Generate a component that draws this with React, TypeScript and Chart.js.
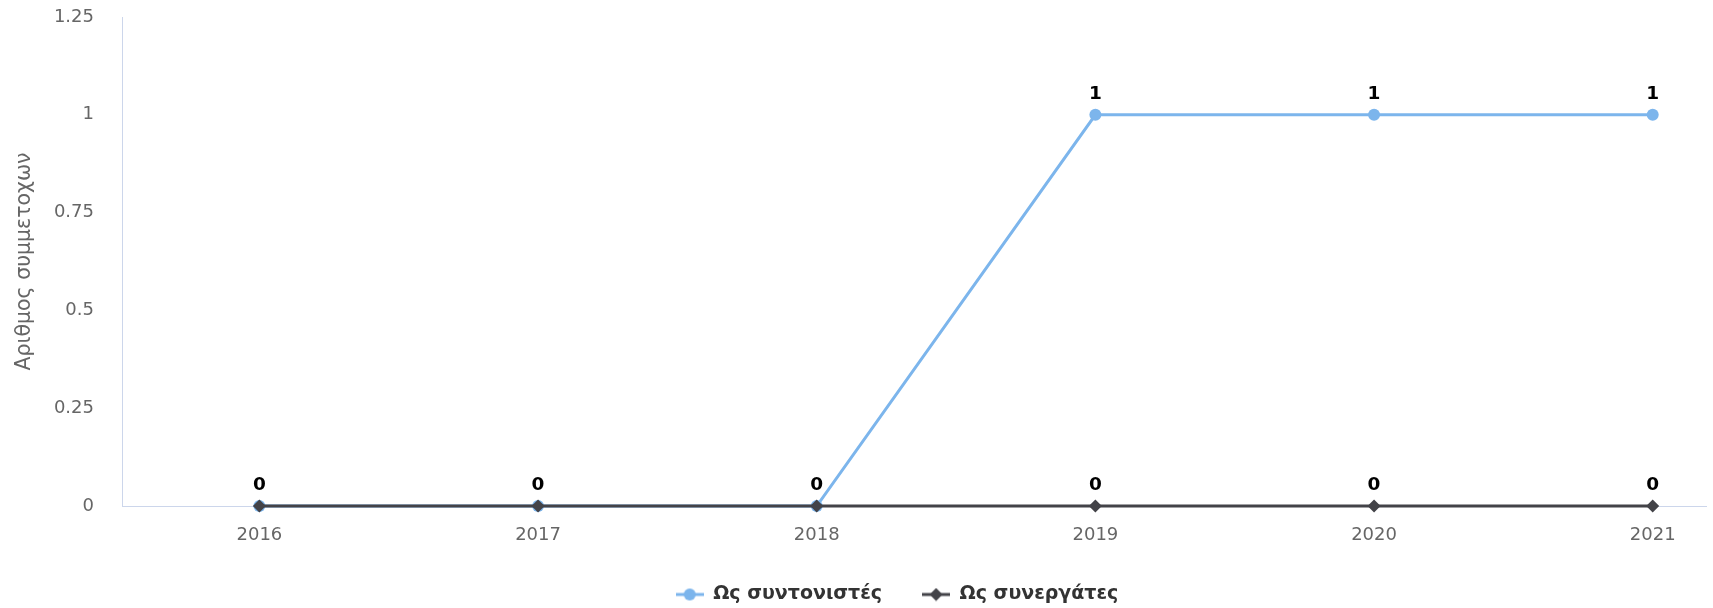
import { useEffect, useRef } from "react";
import { Chart, registerables } from "chart.js";

Chart.register(...registerables);

// ---- data ----
const years = [2016, 2017, 2018, 2019, 2020, 2021];
const coordinators = [0, 0, 0, 1, 1, 1];
const partners = [0, 0, 0, 0, 0, 0];
const seriesNames = ["Ως συντονιστές", "Ως συνεργάτες"];
const yTicks = [0, 0.25, 0.5, 0.75, 1, 1.25];
const yTitle = "Αριθμος συμμετοχων";
const xRange = [2015.507, 2021.193];
const yRange = [0, 1.25];

const FONT = "'DejaVu Sans', sans-serif";
const BLUE = "#7cb5ec";
const DARK = "#434348";
const AXIS = "#ccd6eb";
const TICK = "#666666";

function legendIcon(color: string, style: "circle" | "diamond") {
  const c = document.createElement("canvas");
  c.width = 28;
  c.height = 14;
  const ctx = c.getContext("2d")!;
  ctx.strokeStyle = color;
  ctx.lineWidth = 3;
  ctx.beginPath();
  ctx.moveTo(0, 7);
  ctx.lineTo(28, 7);
  ctx.stroke();
  ctx.fillStyle = color;
  ctx.beginPath();
  if (style === "circle") {
    ctx.arc(14, 7, 6, 0, Math.PI * 2);
  } else {
    ctx.moveTo(7.5, 7);
    ctx.lineTo(14, 0.5);
    ctx.lineTo(20.5, 7);
    ctx.lineTo(14, 13.5);
    ctx.closePath();
  }
  ctx.fill();
  return c;
}

const dataLabels = {
  id: "dataLabels",
  afterDatasetsDraw(chart: any) {
    const ctx = chart.ctx;
    const seen = new Set<string>();
    ctx.save();
    ctx.font = `bold 18.5px ${FONT}`;
    ctx.fillStyle = "#000000";
    ctx.textAlign = "center";
    ctx.textBaseline = "middle";
    chart.data.datasets.forEach((ds: any, i: number) => {
      const meta = chart.getDatasetMeta(i);
      meta.data.forEach((pt: any, j: number) => {
        const key = `${Math.round(pt.x)}_${Math.round(pt.y)}`;
        if (seen.has(key)) return;
        seen.add(key);
        ctx.fillText(String(ds.data[j].y), pt.x, pt.y - 21);
      });
    });
    ctx.restore();
  },
};

// shifts the legend box so it is centred like the reference
const legendShift = {
  id: "legendShift",
  afterLayout(chart: any) {
    const lg = chart.legend;
    if (lg) {
      lg.left += 40.5;
      lg.right += 40.5;
    }
  },
};

export default function App() {
  const ref = useRef<HTMLCanvasElement>(null);

  useEffect(() => {
    document.body.style.margin = "0";
    const icons = [legendIcon(BLUE, "circle"), legendIcon(DARK, "diamond")];
    const chart = new Chart(ref.current!, {
      type: "line",
      data: {
        datasets: [
          {
            label: seriesNames[0],
            data: years.map((x, i) => ({ x, y: coordinators[i] })),
            borderColor: BLUE,
            backgroundColor: BLUE,
            pointBackgroundColor: BLUE,
            pointBorderColor: BLUE,
            pointBorderWidth: 0,
            pointRadius: 6,
            pointStyle: "circle",
            borderWidth: 3,
            tension: 0,
            clip: false,
            order: 1,
          },
          {
            label: seriesNames[1],
            data: years.map((x, i) => ({ x, y: partners[i] })),
            borderColor: DARK,
            backgroundColor: DARK,
            pointBackgroundColor: DARK,
            pointBorderColor: DARK,
            pointBorderWidth: 0,
            pointRadius: 6.5,
            pointStyle: "rectRot",
            borderWidth: 3,
            tension: 0,
            clip: false,
            order: 0,
          },
        ],
      },
      options: {
        responsive: false,
        animation: false,
        events: [],
        layout: { padding: { left: 0, top: 17, right: 0, bottom: -6 } },
        plugins: {
          tooltip: { enabled: false },
          legend: {
            position: "bottom",
            align: "center",
            labels: {
              usePointStyle: true,
              pointStyleWidth: 28,
              padding: 40,
              color: "#333333",
              font: { family: FONT, size: 19, weight: "bold" },
              generateLabels: (c: any) =>
                c.data.datasets.map((ds: any, i: number) => ({
                  text: ds.label,
                  pointStyle: icons[i],
                  fillStyle: ds.borderColor,
                  strokeStyle: ds.borderColor,
                  lineWidth: 0,
                  hidden: false,
                  datasetIndex: i,
                  fontColor: "#333333",
                })),
            },
          },
        },
        scales: {
          x: {
            type: "linear",
            min: xRange[0],
            max: xRange[1],
            grid: { display: false, drawTicks: false },
            border: { display: true, color: AXIS, width: 1 },
            ticks: {
              stepSize: 1,
              color: TICK,
              font: { family: FONT, size: 18 },
              padding: 19,
              maxRotation: 0,
              autoSkip: false,
              callback: (v: any) => String(v),
            },
            afterBuildTicks: (s: any) => {
              s.ticks = years.map((v) => ({ value: v }));
            },
            afterFit: (s: any) => {
              s.height = 39;
              s.paddingLeft = 0;
              s.paddingRight = 0;
            },
          },
          y: {
            min: yRange[0],
            max: yRange[1],
            grid: { display: false, drawTicks: false },
            border: { display: true, color: AXIS, width: 1 },
            ticks: {
              stepSize: 0.25,
              color: TICK,
              font: { family: FONT, size: 18 },
              padding: 28,
              callback: (v: any) => String(v),
            },
            afterBuildTicks: (s: any) => {
              s.ticks = yTicks.map((v) => ({ value: v }));
            },
            afterFit: (s: any) => {
              s.width = 122;
              s.paddingTop = 0;
              s.paddingBottom = 0;
            },
            title: {
              display: true,
              text: yTitle,
              color: TICK,
              font: { family: FONT, size: 20.5 },
              padding: { top: 12, bottom: 0 },
            },
          },
        },
      },
      plugins: [dataLabels, legendShift],
    } as any);
    return () => chart.destroy();
  }, []);

  return <canvas ref={ref} width={1713} height={608} style={{ display: "block" }} />;
}
